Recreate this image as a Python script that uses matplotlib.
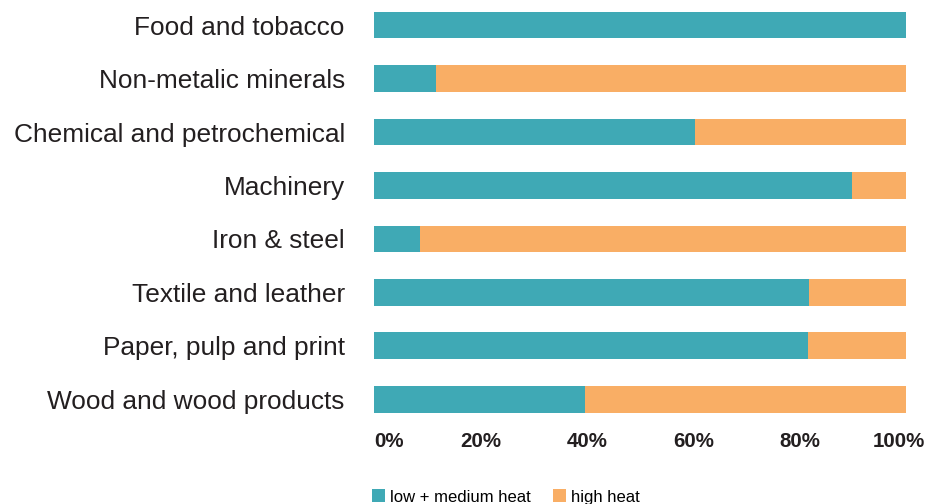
import matplotlib
matplotlib.use("Agg")
import matplotlib.pyplot as plt
from matplotlib.patches import Patch

categories = [
    "Food and tobacco",
    "Non-metalic minerals",
    "Chemical and petrochemical",
    "Machinery",
    "Iron & steel",
    "Textile and leather",
    "Paper, pulp and print",
    "Wood and wood products",
]
low_medium = [100.0, 11.6, 60.4, 89.8, 8.6, 81.8, 81.6, 39.6]
high = [100 - v for v in low_medium]
xticks = [0, 20, 40, 60, 80, 100]
xtick_labels = ["0%", "20%", "40%", "60%", "80%", "100%"]
series_names = ["low + medium heat", "high heat"]

teal = "#3FA9B5"
orange = "#F9AE65"

plt.rcParams["font.family"] = ["Liberation Sans", "DejaVu Sans"]

fig = plt.figure(figsize=(9.26, 5.04), dpi=100)
ax = fig.add_axes([374 / 926, 78 / 504, 532 / 926, 426 / 504])

ypos = list(range(len(categories) - 1, -1, -1))
ax.barh(ypos, low_medium, height=0.5, color=teal, linewidth=0)
ax.barh(ypos, high, left=low_medium, height=0.5, color=orange, linewidth=0)

ax.set_xlim(0, 100)
ax.set_ylim(-0.5, 7.47)
ax.set_yticks(ypos)
ax.set_yticklabels(categories, fontsize=18.9, color="#231F20")

# the last tick label sits right of its tick in the original, so draw it apart
tick_style = dict(fontsize=14.8, fontweight="bold", color="#231F20")
ax.set_xticks(xticks)
ax.set_xticklabels(xtick_labels[:-1] + [""], **tick_style)
ax.get_xticklabels()[0].set_ha("left")
ax.annotate(xtick_labels[-1], xy=(xticks[-1], 0), xycoords=("data", "axes fraction"),
            xytext=(13.5, -4), textcoords="offset points", ha="right", va="top",
            **tick_style)
ax.tick_params(axis="y", length=0, pad=21)
ax.tick_params(axis="x", length=0, pad=4)
for s in ax.spines.values():
    s.set_visible(False)

handles = [Patch(color=teal, linewidth=0), Patch(color=orange, linewidth=0)]
fig.legend(handles, series_names, loc="center left",
           bbox_to_anchor=(372 / 926, 7 / 504), ncol=2, frameon=False,
           fontsize=12, handlelength=0.8, handleheight=0.8,
           handletextpad=0.3, columnspacing=1.3, borderpad=0,
           borderaxespad=0)

fig.savefig("out.png", dpi=100)
